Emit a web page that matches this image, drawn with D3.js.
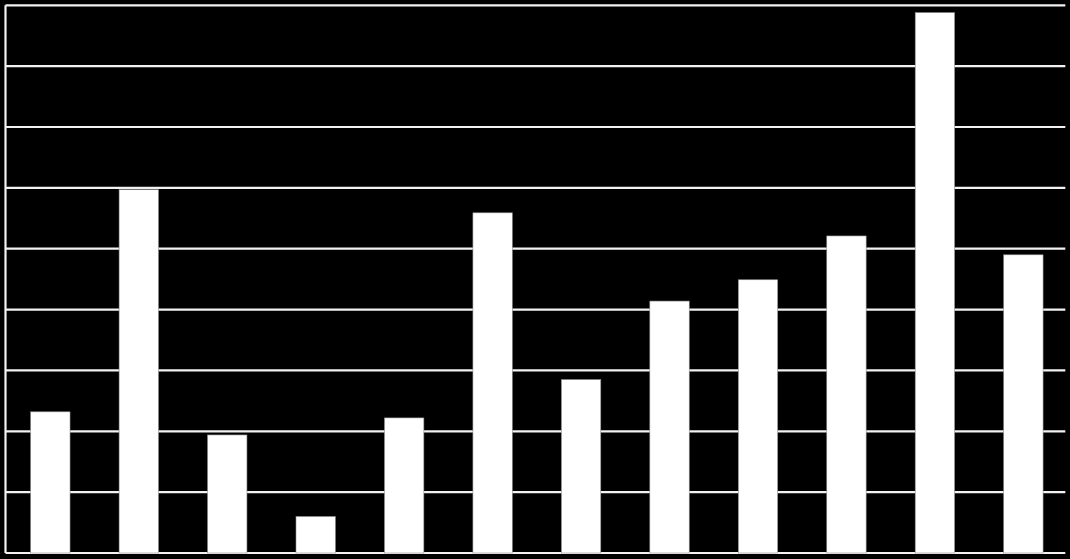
<!DOCTYPE html>
<html>
<head>
<meta charset="utf-8">
<script src="https://cdn.jsdelivr.net/npm/d3@7"></script>
<style>
  html, body { margin: 0; padding: 0; background: #000; }
  svg { display: block; }
</style>
</head>
<body>
<script>
// Data
const categories = ["1", "2", "3", "4", "5", "6", "7", "8", "9", "10", "11", "12"];
const values = [2.32, 5.97, 1.94, 0.60, 2.22, 5.59, 2.85, 4.14, 4.49, 5.21, 8.88, 4.90];
const yTicks = [0, 1, 2, 3, 4, 5, 6, 7, 8, 9];

const W = 1070, H = 559;
const plot = { left: 5.5, right: 1065.3, top: 5.3, bottom: 553 };

const svg = d3.select("body").append("svg")
  .attr("width", W).attr("height", H)
  .style("background", "#000");

const x = d3.scaleBand()
  .domain(categories)
  .range([6.1, 1067.6])
  .paddingInner(0.5546)
  .paddingOuter(0.2773);

const y = d3.scaleLinear()
  .domain([0, 9])
  .range([plot.bottom, plot.top]);

// Gridlines
svg.append("g")
  .selectAll("line")
  .data(yTicks)
  .join("line")
  .attr("x1", plot.left)
  .attr("x2", plot.right)
  .attr("y1", d => y(d))
  .attr("y2", d => y(d))
  .attr("stroke", "#f2f2f2")
  .attr("stroke-width", 2.2);

// Left axis line
svg.append("line")
  .attr("x1", plot.left).attr("x2", plot.left)
  .attr("y1", plot.top).attr("y2", plot.bottom)
  .attr("stroke", "#f2f2f2")
  .attr("stroke-width", 2.2);

// Bars
svg.append("g")
  .selectAll("rect")
  .data(values)
  .join("rect")
  .attr("x", (d, i) => x(categories[i]))
  .attr("width", x.bandwidth())
  .attr("y", d => y(d))
  .attr("height", d => y(0) - y(d))
  .attr("fill", "#ffffff")
  .attr("stroke", "#8c8c8c")
  .attr("stroke-width", 0.6);
</script>
</body>
</html>
